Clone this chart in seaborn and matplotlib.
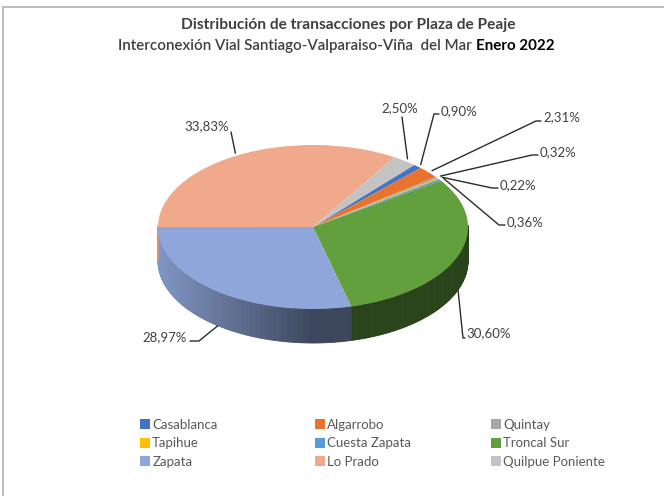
import numpy as np
import matplotlib
matplotlib.use("Agg")
import matplotlib.pyplot as plt
import seaborn as sns
from matplotlib.lines import Line2D
from matplotlib.colors import to_rgb

# datos: participacion de cada plaza de peaje (%)
plazas = ["Casablanca", "Algarrobo", "Quintay", "Tapihue", "Cuesta Zapata",
          "Troncal Sur", "Zapata", "Lo Prado", "Quilpue Poniente"]
pct = [0.90, 2.31, 0.32, 0.22, 0.36, 30.60, 28.97, 33.83, 2.50]
colores = ["#4472C4", "#E8732C", "#A5A5A5", "#FFC000", "#5B9BD5",
           "#62A03E", "#8FA6DA", "#F0A98B", "#C3C3C3"]

# posicion de las etiquetas (pixeles desde arriba-izquierda): texto, codo, extremo
etq_pos = {
    "Casablanca": ((441, 111), "left", [(434, 114), (439, 114)]),
    "Algarrobo": ((543, 117), "left", [(536, 121), (541, 121)]),
    "Quintay": ((540, 152), "left", [(532, 155), (538, 155)]),
    "Tapihue": ((500, 185), "left", [(492, 188), (498, 188)]),
    "Cuesta Zapata": ((507, 222), "left", [(499, 225), (505, 225)]),
    "Troncal Sur": ((466, 333), "left", [(463, 338), (465, 338)]),
    "Zapata": ((187, 337), "right", [(199, 341), (190, 341)]),
    "Lo Prado": ((229, 126), "right", [(231, 132), (231, 132)]),
    "Quilpue Poniente": ((400, 108), "center", [(402, 117), (402, 117)]),
}

W, H = 664, 496
sns.set_theme(style="white")
plt.rcParams['font.family'] = ['Lato', 'DejaVu Sans']

fig = plt.figure(figsize=(W / 100, H / 100), dpi=100)


def ff(x, y):
    return (x / W, 1 - y / H)


# elipse: centro (313, 227) px, rx 155 px, ry 82 px, espesor 34 px
cx, cy, rx, ry, prof = 313, 227, 155, 82, 34
d = prof / ry
m = 1.3
left = (cx - m * rx) / W
bottom = 1 - (cy + (m + d) * ry) / H
ax = fig.add_axes([left, bottom, 2 * m * rx / W, (2 * m + d) * ry / H])

inicio = 90 - 40.8  # primer sector a ~41 grados de las 12 en punto
frac = np.array(pct) / sum(pct)
bordes = inicio - 360 * np.concatenate([[0], np.cumsum(frac)])

# pared lateral (solo mitad frontal)
for i, col in enumerate(colores):
    a0, a1 = bordes[i], bordes[i + 1]
    angs = np.arange(a0, a1 - 1e-9, -1.0).tolist() + [a1]
    rgb = np.array(to_rgb(col))
    for t0, t1 in zip(angs[:-1], angs[1:]):
        tm = np.deg2rad((t0 + t1) / 2)
        if np.sin(tm) > 0.02:
            continue
        f = 0.42 + 0.48 * max(0.0, -np.cos(tm))
        c = rgb * f
        r0, r1 = np.deg2rad(t0), np.deg2rad(t1)
        xs = [np.cos(r0), np.cos(r1), np.cos(r1), np.cos(r0)]
        ys = [np.sin(r0), np.sin(r1), np.sin(r1) - d, np.sin(r0) - d]
        ax.fill(xs, ys, color=c, lw=0.6, ec=c, zorder=1)

wedges, _ = ax.pie(pct, colors=colores, startangle=inicio, counterclock=False,
                   radius=1, wedgeprops=dict(linewidth=0, zorder=2))
ax.set_aspect('auto')
ax.set_xlim(-m, m)
ax.set_ylim(-m - d, m)
ax.axis('off')

# etiquetas con lineas guia
to_ff = fig.transFigure.inverted()
for i, p in enumerate(plazas):
    a = np.deg2rad((bordes[i] + bordes[i + 1]) / 2)
    if np.sin(a) > 0:
        ancla = (1.03 * np.cos(a), 1.03 * np.sin(a))
    else:
        ancla = (np.cos(a), np.sin(a) - d)
    a_ff = to_ff.transform(ax.transData.transform(ancla))
    (tx, ty), ha, pts = etq_pos[p]
    puntos = [tuple(a_ff)] + [ff(*q) for q in pts]
    xs, ys = zip(*puntos)
    fig.add_artist(Line2D(xs, ys, transform=fig.transFigure, color="#2b2b2b", lw=1))
    txt = f"{pct[i]:.2f}%".replace(".", ",")
    fig.text(*ff(tx, ty), txt, ha=ha, va="center", fontsize=9.5, color="#404040")

# titulo
fig.text(*ff(348, 25), "Distribución de transacciones por Plaza de Peaje",
         ha="center", va="center", fontsize=11.2, fontweight="bold", color="#404040")
fig.text(*ff(476, 46), "Interconexión Vial Santiago-Valparaiso-Viña  del Mar ",
         ha="right", va="center", fontsize=10.9, fontweight="semibold", color="#404040")
fig.text(*ff(476, 46), "Enero 2022",
         ha="left", va="center", fontsize=10.9, fontweight="bold", color="black")

# leyenda en tres columnas
orden = [[0, 3, 6], [1, 4, 7], [2, 5, 8]]
col_x = [141, 316, 492]
for k, idx in enumerate(orden):
    handles = [Line2D([], [], marker="s", ls="", markersize=6.5,
                      markerfacecolor=colores[j], markeredgewidth=0) for j in idx]
    fig.legend(handles, [plazas[j] for j in idx], loc="upper left",
               bbox_to_anchor=ff(col_x[k], 419), frameon=False, fontsize=9.5,
               labelcolor="#595959", handlelength=0.6, handletextpad=0.25,
               labelspacing=0.48, borderpad=0, borderaxespad=0)

# borde del area del grafico
fig.add_artist(Line2D([3 / W, 1], [1 - 7 / H, 1 - 7 / H], transform=fig.transFigure,
                      color="#BFBFBF", lw=1.5))
fig.add_artist(Line2D([3 / W, 3 / W], [0, 1 - 7 / H], transform=fig.transFigure,
                      color="#BFBFBF", lw=1.5))

fig.savefig("out.png", dpi=100)
